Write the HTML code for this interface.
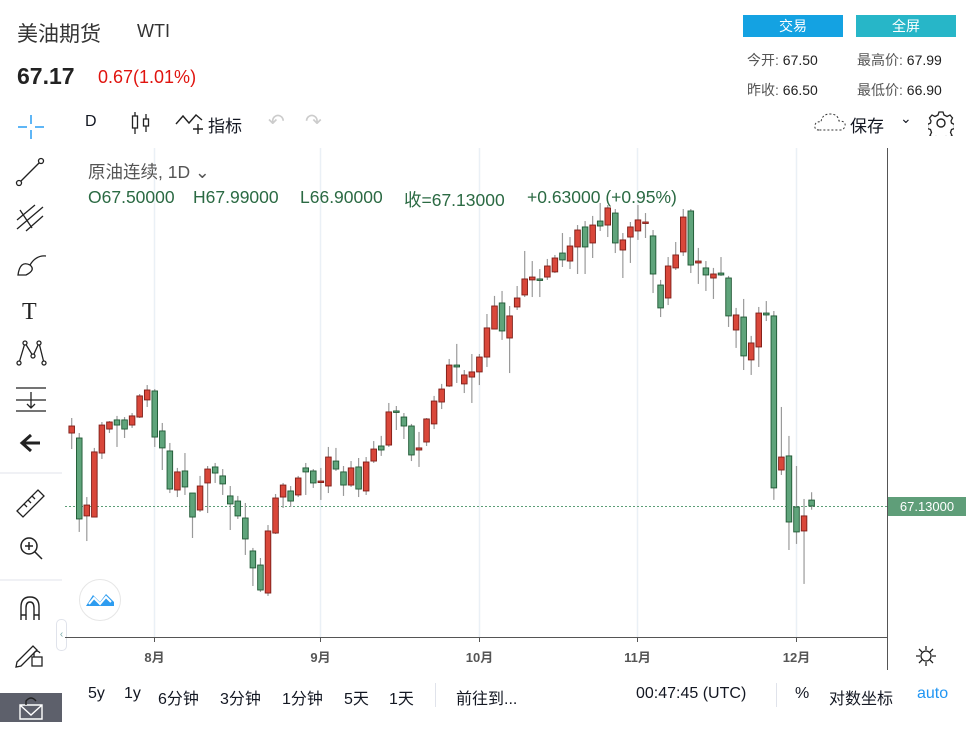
<!DOCTYPE html>
<html><head><meta charset="utf-8">
<style>
*{margin:0;padding:0;box-sizing:border-box}
body{width:970px;height:732px;overflow:hidden;background:#fff;font-family:"Liberation Sans","Noto Sans CJK SC",sans-serif;color:#131722;position:relative}
.abs{position:absolute;white-space:nowrap}
.btn{position:absolute;color:#fff;font-size:14px;text-align:center;line-height:22px;height:22px}
.st{font-size:14px;color:#555}
.bb{position:absolute;top:685px;font-size:16px;color:#131722}
.lg{position:absolute;top:187px;font-size:17.5px;color:#2b6a43;white-space:nowrap}
</style></head><body>
<div class="abs" style="left:17px;top:18px;font-size:21px;color:#333">美油期货</div>
<div class="abs" style="left:137px;top:21px;font-size:18px;color:#333">WTI</div>
<div class="abs" style="left:17px;top:63px;font-size:23px;font-weight:bold;color:#222">67.17</div>
<div class="abs" style="left:98px;top:67px;font-size:18px;color:#e0140f">0.67(1.01%)</div>
<div class="btn" style="left:743px;top:15px;width:100px;background:#14a2e2">交易</div>
<div class="btn" style="left:856px;top:15px;width:100px;background:#27b6c8">全屏</div>
<div class="abs st" style="left:747px;top:50px">今开:&nbsp;<span style="color:#222">67.50</span></div>
<div class="abs st" style="left:857px;top:50px">最高价:&nbsp;<span style="color:#222">67.99</span></div>
<div class="abs st" style="left:747px;top:80px">昨收:&nbsp;<span style="color:#222">66.50</span></div>
<div class="abs st" style="left:857px;top:80px">最低价:&nbsp;<span style="color:#222">66.90</span></div>

<div class="abs" style="left:85px;top:113px;font-size:16px">D</div>
<svg class="abs" style="left:130px;top:110px" width="22" height="26"><g stroke="#222" fill="none" stroke-width="1.3"><line x1="5" y1="2" x2="5" y2="24"/><rect x="2.5" y="6" width="5" height="12" fill="#fff"/><line x1="16" y1="4" x2="16" y2="22"/><rect x="13.5" y="9" width="5" height="7" fill="#fff"/></g></svg>
<svg class="abs" style="left:174px;top:110px" width="32" height="26"><path d="M2 14 L9 6 L15 13 L22 5 L28 10" stroke="#222" fill="none" stroke-width="1.4"/><path d="M24 14v10M19 19h10" stroke="#222" stroke-width="1.4"/></svg>
<div class="abs" style="left:208px;top:112px;font-size:17px">指标</div>
<div class="abs" style="left:268px;top:109px;font-size:20px;color:#ccc">↶</div>
<div class="abs" style="left:305px;top:109px;font-size:20px;color:#ccc">↷</div>
<svg class="abs" style="left:813px;top:110px" width="34" height="24"><path d="M6 20 Q1 20 2 15 Q3 11 8 12 Q9 4 17 4 Q25 4 26 11 Q33 11 32 16 Q31 20 27 20 Z" fill="none" stroke="#333" stroke-dasharray="2 2"/></svg>
<div class="abs" style="left:850px;top:112px;font-size:17px">保存</div>
<div class="abs" style="left:900px;top:110px;font-size:14px">⌄</div>
<svg class="abs" style="left:928px;top:110px" width="26" height="26"><circle cx="13" cy="13" r="4" fill="none" stroke="#222" stroke-width="1.4"/><path d="M11 2h4l1 3 3 1.5 3-1.5 2.5 3-1.5 3 .5 2 3 1.5v4l-3 1-1 3 1.5 3-3 2.5-3-1.5-2 .8-1 3h-4l-1-3-2-.8-3 1.5-3-2.5 1.5-3-1-3-3-1v-4l3-1.5.5-2-1.5-3 2.5-3 3 1.5 3-1.5z" fill="none" stroke="#222" stroke-width="1.3"/></svg>

<svg class="abs" style="left:0;top:100px" width="64" height="632">
<g stroke="#2a9df4" stroke-width="1.5"><path d="M31 15v9M31 30v9M18 27h9M35 27h9"/></g>
<g stroke="#222" fill="#fff" stroke-width="1.3"><line x1="19" y1="83" x2="41" y2="61"/><circle cx="19" cy="83" r="2.5"/><circle cx="41" cy="61" r="2.5"/></g>
<g stroke="#222" fill="none" stroke-width="1.3"><path d="M17 129 L43 107 M17 120 L35 105 M26 131 L43 116 M20 110 L32 128"/></g>
<g stroke="#222" fill="none" stroke-width="1.3"><path d="M18 175 Q20 160 30 165 Q36 170 26 175 Z M30 165 Q36 155 46 156"/></g>
<text x="22" y="219" font-size="24" font-family="Liberation Serif" fill="#222">T</text>
<g stroke="#222" fill="#fff" stroke-width="1.3"><path d="M19 263 L25 243 L33 256 L39 243 L44 263"/><circle cx="19" cy="263" r="2"/><circle cx="25" cy="243" r="2"/><circle cx="33" cy="256" r="2"/><circle cx="39" cy="243" r="2"/><circle cx="44" cy="263" r="2"/></g>
<g stroke="#222" fill="none" stroke-width="1.3"><path d="M16 288h30M16 300h30M16 311h30M31 292v16M27 304l4 4 4-4"/></g>
<path d="M40 343H24 M31 335 L22 343 L31 351" stroke="#222" stroke-width="3" fill="none"/>
<line x1="0" y1="373" x2="62" y2="373" stroke="#e0e3eb"/>
<g stroke="#222" fill="none" stroke-width="1.3"><path d="M17 411 L38 390 L44 396 L23 417 Z M24 404l3 3M28 400l3 3M32 396l3 3"/></g>
<g stroke="#222" fill="none" stroke-width="1.5"><circle cx="29" cy="446" r="8"/><path d="M35 452l7 7M25 446h8M29 442v8"/></g>
<line x1="0" y1="480" x2="62" y2="480" stroke="#e0e3eb"/>
<g stroke="#222" fill="none" stroke-width="1.4"><path d="M21 520 V507 Q21 497 30 497 Q39 497 39 507 V520 M26 520V508 Q26 502 30 502 Q34 502 34 508V520 M21 515h5M34 515h5"/></g>
<g stroke="#222" fill="none" stroke-width="1.3"><path d="M17 562 L33 546 L37 550 L21 566 L16 567 Z"/><rect x="32" y="557" width="10" height="9"/><path d="M34 557v-4q3-4 6 0"/></g>
<rect x="0" y="593" width="62" height="29" fill="#5d606b"/>
<g stroke="#fff" fill="none" stroke-width="1.4"><path d="M20 605h22v14H20z M20 605l11 10 11-10"/><path d="M26 605v-4q5-6 10 0" stroke="#222"/></g>
</svg>
<div class="abs" style="left:56px;top:619px;width:11px;height:32px;border:1px solid #e0e3eb;border-radius:5px;background:#fff;font-size:10px;color:#7aa;line-height:30px;text-align:center">‹</div>

<svg class="abs" id="chart" style="left:0;top:0" width="970" height="732"></svg>

<div class="abs" style="left:88px;top:159px;font-size:17.5px;color:#555">原油连续, 1D ⌄</div>
<div class="lg" style="left:88px">O67.50000</div>
<div class="lg" style="left:193px">H67.99000</div>
<div class="lg" style="left:300px">L66.90000</div>
<div class="lg" style="left:404px">收=67.13000</div>
<div class="lg" style="left:527px">+0.63000 (+0.95%)</div>

<svg class="abs" style="left:78px;top:578px" width="44" height="44"><circle cx="22" cy="22" r="20.5" fill="#fff" stroke="#e6e6e6"/><path d="M8 28 L15 17 L22 24 L28 16 L36 24 L36 28 Z" fill="#2d9cf0"/><path d="M11 26 L16 20 L22 26 L28 19 L33 24" stroke="#fff" stroke-width="2" fill="none"/></svg>

<svg class="abs" style="left:915px;top:645px" width="22" height="22"><circle cx="11" cy="11" r="5" fill="none" stroke="#222" stroke-width="1.3"/><path d="M11 1v4M11 17v4M1 11h4M17 11h4M4 4l3 3M15 15l3 3M4 18l3-3M15 7l3-3" stroke="#222" stroke-width="1.3"/></svg>

<div class="bb" style="left:88px">5y</div>
<div class="bb" style="left:124px">1y</div>
<div class="bb" style="left:158px">6分钟</div>
<div class="bb" style="left:220px">3分钟</div>
<div class="bb" style="left:282px">1分钟</div>
<div class="bb" style="left:344px">5天</div>
<div class="bb" style="left:389px">1天</div>
<div class="abs" style="left:435px;top:683px;width:1px;height:24px;background:#e0e3eb"></div>
<div class="bb" style="left:456px">前往到...</div>
<div class="bb" style="left:636px">00:47:45 (UTC)</div>
<div class="abs" style="left:776px;top:683px;width:1px;height:24px;background:#e0e3eb"></div>
<div class="bb" style="left:795px">%</div>
<div class="bb" style="left:829px">对数坐标</div>
<div class="bb" style="left:917px;color:#2196f3">auto</div>

<script>
const opens=[71.69,71.38,66.51,66.44,70.44,71.94,72.51,72.51,72.19,72.69,73.76,74.32,71.82,70.57,68.13,69.32,67.94,66.88,68.57,69.57,69.01,67.76,67.44,66.38,64.32,63.44,61.69,65.44,67.69,68.07,67.82,69.51,69.32,68.63,68.38,69.94,69.26,68.44,69.57,68.07,69.94,70.88,70.94,73.07,72.69,72.13,70.63,71.13,72.26,73.63,74.63,75.94,74.76,75.19,75.51,76.44,78.19,79.82,77.63,79.57,80.32,81.26,81.32,81.44,81.76,82.94,82.44,83.32,84.57,83.57,84.94,84.69,85.44,83.13,83.94,84.32,84.82,84.01,80.94,80.13,82.01,83.01,85.57,82.32,82.01,81.38,81.69,81.38,78.13,78.94,76.26,77.07,79.19,79.01,69.38,70.26,67.07,65.57,67.50];
const closes=[72.13,66.32,67.19,70.51,72.19,72.38,72.19,71.94,72.76,74.01,74.38,71.44,70.76,68.19,69.26,68.32,66.44,68.38,69.44,69.19,68.51,67.26,66.51,65.07,63.26,61.88,65.57,67.63,68.44,67.44,68.88,69.26,68.57,68.69,70.19,69.44,68.44,69.51,68.19,69.88,70.69,70.63,73.01,73.01,72.13,70.32,70.76,72.57,73.69,74.44,75.94,75.82,75.32,75.51,76.44,78.26,79.63,78.07,79.01,80.13,81.32,81.44,81.26,82.13,82.63,82.51,83.38,84.38,83.32,84.69,84.63,85.76,83.57,83.76,84.57,85.01,84.88,81.63,79.51,82.13,82.82,85.19,82.19,82.44,81.57,81.63,81.57,79.01,79.07,76.51,77.32,79.19,79.07,68.26,70.19,66.13,65.51,66.51,67.13];
const highs=[72.63,71.69,67.69,70.76,72.38,72.44,72.76,72.69,72.94,74.13,74.69,74.44,72.32,71.07,69.51,70.44,67.94,69.01,69.63,69.82,69.44,68.38,67.76,67.32,64.51,63.88,65.94,67.88,68.57,68.38,69.01,69.82,69.44,69.51,70.82,70.76,69.63,69.94,70.13,70.19,71.19,71.51,73.57,73.38,72.94,72.26,71.76,72.63,74.01,74.76,76.32,77.26,75.63,76.63,76.63,79.13,80.26,80.57,79.63,80.88,83.07,82.44,81.94,82.57,82.82,84.19,83.94,84.69,84.94,85.26,86.07,85.94,85.69,84.19,84.88,85.94,85.44,84.38,81.26,82.69,83.63,85.69,85.69,83.26,82.44,82.01,82.69,81.51,79.51,80.07,77.76,79.57,79.94,79.32,73.32,71.51,69.63,67.57,67.99];
const lows=[70.69,65.51,64.94,66.44,70.07,71.69,70.82,71.38,72.01,72.63,73.32,70.82,69.38,67.94,67.69,67.82,65.13,66.76,66.69,68.57,67.82,65.63,66.32,64.07,62.13,61.76,61.51,65.38,67.01,67.07,67.69,67.82,68.26,67.51,67.94,69.32,67.76,68.32,67.69,67.82,69.82,70.26,70.82,71.88,71.32,69.94,69.57,70.88,71.94,73.19,74.57,74.82,74.19,73.57,74.69,75.82,78.19,77.51,75.44,79.38,80.19,80.19,80.19,81.26,81.69,82.07,81.94,81.63,81.63,82.63,84.32,83.94,82.94,81.38,82.32,83.76,83.88,80.44,78.94,79.69,81.88,82.76,81.69,81.01,80.57,80.07,81.51,78.32,77.01,75.63,75.32,75.82,78.69,67.51,69.07,64.38,64.76,62.26,66.90];
const monthLabels=["8月","9月","10月","11月","12月"];
const monthIndex=[11,33,54,75,96];
const lastPrice=67.13;
const lastPriceLabel="67.13000";

const NS="http://www.w3.org/2000/svg";
const svg=document.getElementById('chart');
const X0=71.7, STEP=7.55;
function xScale(i){return X0+i*STEP;}
function yScale(p){return 506-(p-67.13)*16;}
function mk(tag,attrs,parent){const e=document.createElementNS(NS,tag);for(const k in attrs)e.setAttribute(k,attrs[k]);(parent||svg).appendChild(e);return e;}

monthIndex.forEach((mi,k)=>{
  const x=Math.round(xScale(mi)-0.6)+0.5;
  const g=mk('line',{x1:x,x2:x,y1:148,y2:637,stroke:'#eaf0f6','stroke-width':1.5});
  
  
  const tk=mk('line',{x1:x,x2:x,y1:637,y2:642,stroke:'#555'});
  
  
  const t=mk('text',{x:x,y:662,'text-anchor':'middle','font-size':13,'font-weight':'bold',fill:'#555','font-family':'Liberation Sans, Noto Sans CJK SC, sans-serif'});
  t.textContent=monthLabels[k];
  
  
});
const xa=mk('line',{x1:65,x2:887,y1:637.5,y2:637.5,stroke:'#555'});


const ya=mk('line',{x1:887.5,x2:887.5,y1:148,y2:670,stroke:'#555'});


const ly=Math.round(yScale(lastPrice))+0.5;
const pl=mk('line',{x1:65,x2:887,y1:ly,y2:ly,stroke:'#5c9e77','stroke-dasharray':'2 2'});


for(let i=0;i<opens.length;i++){
  const x=xScale(i), o=opens[i], c=closes[i];
  const up=c>=o;
  const w=mk('line',{x1:x,x2:x,y1:yScale(highs[i]),y2:yScale(lows[i]),stroke:'#9a9a9a','stroke-width':1.2});
  
  
  const top=yScale(Math.max(o,c)), bot=yScale(Math.min(o,c));
  const b=mk('rect',{x:x-2.8,y:top,width:5.6,height:Math.max(bot-top,1.5),fill:up?'#d9473a':'#5fa47b',stroke:up?'#7d1e18':'#1f5834','stroke-width':0.9});
  
  
}
const lb=mk('rect',{x:888,y:ly-9.5,width:78,height:19,fill:'#5f9e79'});


const lt=mk('text',{x:927,y:ly+4.5,'text-anchor':'middle','font-size':13,fill:'#fff','font-family':'Liberation Sans, sans-serif'});
lt.textContent=lastPriceLabel;


</script>
</body></html>
